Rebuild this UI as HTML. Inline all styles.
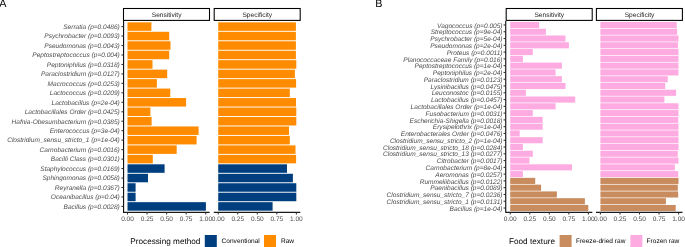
<!DOCTYPE html>
<html><head><meta charset="utf-8"><style>
html,body{margin:0;padding:0;background:#fff;}
body{width:685px;height:247px;overflow:hidden;}
svg{display:block;will-change:transform;text-rendering:geometricPrecision;font-family:"Liberation Sans",sans-serif;}
</style></head><body>
<svg width="685" height="247" viewBox="0 0 685 247">
<rect width="685" height="247" fill="#fff"/>
<rect x="123.5" y="8.5" width="86" height="11.9" fill="#fff" stroke="#000" stroke-width="1.07"/>
<text x="166.6" y="16.7" font-size="6.6" fill="#1A1A1A" text-anchor="middle">Sensitivity</text>
<rect x="127.51" y="22.32" width="23.89" height="8.52" fill="#FF8C00"/>
<rect x="127.51" y="31.79" width="41.69" height="8.52" fill="#FF8C00"/>
<rect x="127.51" y="41.25" width="42.99" height="8.52" fill="#FF8C00"/>
<rect x="127.51" y="50.72" width="41.69" height="8.52" fill="#FF8C00"/>
<rect x="127.51" y="60.18" width="24.99" height="8.52" fill="#FF8C00"/>
<rect x="127.51" y="69.65" width="39.69" height="8.52" fill="#FF8C00"/>
<rect x="127.51" y="79.11" width="29.39" height="8.52" fill="#FF8C00"/>
<rect x="127.51" y="88.58" width="42.79" height="8.52" fill="#FF8C00"/>
<rect x="127.51" y="98.04" width="58.59" height="8.52" fill="#FF8C00"/>
<rect x="127.51" y="107.51" width="22.89" height="8.52" fill="#FF8C00"/>
<rect x="127.51" y="116.97" width="24.09" height="8.52" fill="#FF8C00"/>
<rect x="127.51" y="126.44" width="71.09" height="8.52" fill="#FF8C00"/>
<rect x="127.51" y="135.9" width="69.09" height="8.52" fill="#FF8C00"/>
<rect x="127.51" y="145.37" width="49.19" height="8.52" fill="#FF8C00"/>
<rect x="127.51" y="154.83" width="25.29" height="8.52" fill="#FF8C00"/>
<rect x="127.51" y="164.3" width="37.09" height="8.52" fill="#003F7F"/>
<rect x="127.51" y="173.77" width="20.49" height="8.52" fill="#003F7F"/>
<rect x="127.51" y="183.23" width="8.09" height="8.52" fill="#003F7F"/>
<rect x="127.51" y="192.7" width="8.09" height="8.52" fill="#003F7F"/>
<rect x="127.51" y="202.16" width="78.39" height="8.52" fill="#003F7F"/>
<line x1="123.1" y1="212.3" x2="209.6" y2="212.3" stroke="#1a1a1a" stroke-width="1.15"/>
<line x1="127.51" y1="212.3" x2="127.51" y2="214.5" stroke="#333" stroke-width="1.07"/>
<text x="127.51" y="220.5" font-size="6.55" fill="#4D4D4D" text-anchor="middle">0.00</text>
<line x1="147.05" y1="212.3" x2="147.05" y2="214.5" stroke="#333" stroke-width="1.07"/>
<text x="147.05" y="220.5" font-size="6.55" fill="#4D4D4D" text-anchor="middle">0.25</text>
<line x1="166.6" y1="212.3" x2="166.6" y2="214.5" stroke="#333" stroke-width="1.07"/>
<text x="166.6" y="220.5" font-size="6.55" fill="#4D4D4D" text-anchor="middle">0.50</text>
<line x1="186.15" y1="212.3" x2="186.15" y2="214.5" stroke="#333" stroke-width="1.07"/>
<text x="186.15" y="220.5" font-size="6.55" fill="#4D4D4D" text-anchor="middle">0.75</text>
<line x1="205.69" y1="212.3" x2="205.69" y2="214.5" stroke="#333" stroke-width="1.07"/>
<text x="205.69" y="220.5" font-size="6.55" fill="#4D4D4D" text-anchor="middle">1.00</text>
<rect x="214.2" y="8.5" width="86" height="11.9" fill="#fff" stroke="#000" stroke-width="1.07"/>
<text x="257.3" y="16.7" font-size="6.6" fill="#1A1A1A" text-anchor="middle">Specificity</text>
<rect x="218.21" y="22.32" width="77.69" height="8.52" fill="#FF8C00"/>
<rect x="218.21" y="31.79" width="77.69" height="8.52" fill="#FF8C00"/>
<rect x="218.21" y="41.25" width="77.69" height="8.52" fill="#FF8C00"/>
<rect x="218.21" y="50.72" width="77.69" height="8.52" fill="#FF8C00"/>
<rect x="218.21" y="60.18" width="78.09" height="8.52" fill="#FF8C00"/>
<rect x="218.21" y="69.65" width="76.69" height="8.52" fill="#FF8C00"/>
<rect x="218.21" y="79.11" width="77.89" height="8.52" fill="#FF8C00"/>
<rect x="218.21" y="88.58" width="71.59" height="8.52" fill="#FF8C00"/>
<rect x="218.21" y="98.04" width="77.79" height="8.52" fill="#FF8C00"/>
<rect x="218.21" y="107.51" width="78.09" height="8.52" fill="#FF8C00"/>
<rect x="218.21" y="116.97" width="78.09" height="8.52" fill="#FF8C00"/>
<rect x="218.21" y="126.44" width="70.79" height="8.52" fill="#FF8C00"/>
<rect x="218.21" y="135.9" width="71.59" height="8.52" fill="#FF8C00"/>
<rect x="218.21" y="145.37" width="77.29" height="8.52" fill="#FF8C00"/>
<rect x="218.21" y="154.83" width="77.89" height="8.52" fill="#FF8C00"/>
<rect x="218.21" y="164.3" width="68.79" height="8.52" fill="#003F7F"/>
<rect x="218.21" y="173.77" width="74.69" height="8.52" fill="#003F7F"/>
<rect x="218.21" y="183.23" width="78.09" height="8.52" fill="#003F7F"/>
<rect x="218.21" y="192.7" width="78.09" height="8.52" fill="#003F7F"/>
<rect x="218.21" y="202.16" width="54.39" height="8.52" fill="#003F7F"/>
<line x1="213.8" y1="212.3" x2="300.3" y2="212.3" stroke="#1a1a1a" stroke-width="1.15"/>
<line x1="218.21" y1="212.3" x2="218.21" y2="214.5" stroke="#333" stroke-width="1.07"/>
<text x="218.21" y="220.5" font-size="6.55" fill="#4D4D4D" text-anchor="middle">0.00</text>
<line x1="237.75" y1="212.3" x2="237.75" y2="214.5" stroke="#333" stroke-width="1.07"/>
<text x="237.75" y="220.5" font-size="6.55" fill="#4D4D4D" text-anchor="middle">0.25</text>
<line x1="257.3" y1="212.3" x2="257.3" y2="214.5" stroke="#333" stroke-width="1.07"/>
<text x="257.3" y="220.5" font-size="6.55" fill="#4D4D4D" text-anchor="middle">0.50</text>
<line x1="276.85" y1="212.3" x2="276.85" y2="214.5" stroke="#333" stroke-width="1.07"/>
<text x="276.85" y="220.5" font-size="6.55" fill="#4D4D4D" text-anchor="middle">0.75</text>
<line x1="296.39" y1="212.3" x2="296.39" y2="214.5" stroke="#333" stroke-width="1.07"/>
<text x="296.39" y="220.5" font-size="6.55" fill="#4D4D4D" text-anchor="middle">1.00</text>
<line x1="123.6" y1="20.9" x2="123.6" y2="212.8" stroke="#000" stroke-width="1.07"/>
<line x1="121.4" y1="26.58" x2="123.6" y2="26.58" stroke="#333" stroke-width="1.07"/>
<text x="119.8" y="28.88" font-size="6.56" font-style="italic" fill="#4D4D4D" text-anchor="end">Serratia (p=0.0486)</text>
<line x1="121.4" y1="36.04" x2="123.6" y2="36.04" stroke="#333" stroke-width="1.07"/>
<text x="119.8" y="38.34" font-size="6.56" font-style="italic" fill="#4D4D4D" text-anchor="end">Psychrobacter (p=0.0093)</text>
<line x1="121.4" y1="45.51" x2="123.6" y2="45.51" stroke="#333" stroke-width="1.07"/>
<text x="119.8" y="47.81" font-size="6.56" font-style="italic" fill="#4D4D4D" text-anchor="end">Pseudomonas (p=0.0043)</text>
<line x1="121.4" y1="54.98" x2="123.6" y2="54.98" stroke="#333" stroke-width="1.07"/>
<text x="119.8" y="57.28" font-size="6.56" font-style="italic" fill="#4D4D4D" text-anchor="end">Peptostreptococcus (p=0.004)</text>
<line x1="121.4" y1="64.44" x2="123.6" y2="64.44" stroke="#333" stroke-width="1.07"/>
<text x="119.8" y="66.74" font-size="6.56" font-style="italic" fill="#4D4D4D" text-anchor="end">Peptoniphilus (p=0.0318)</text>
<line x1="121.4" y1="73.91" x2="123.6" y2="73.91" stroke="#333" stroke-width="1.07"/>
<text x="119.8" y="76.21" font-size="6.56" font-style="italic" fill="#4D4D4D" text-anchor="end">Paraclostridium (p=0.0127)</text>
<line x1="121.4" y1="83.37" x2="123.6" y2="83.37" stroke="#333" stroke-width="1.07"/>
<text x="119.8" y="85.67" font-size="6.56" font-style="italic" fill="#4D4D4D" text-anchor="end">Macrococcus (p=0.0253)</text>
<line x1="121.4" y1="92.84" x2="123.6" y2="92.84" stroke="#333" stroke-width="1.07"/>
<text x="119.8" y="95.14" font-size="6.56" font-style="italic" fill="#4D4D4D" text-anchor="end">Lactococcus (p=0.0209)</text>
<line x1="121.4" y1="102.3" x2="123.6" y2="102.3" stroke="#333" stroke-width="1.07"/>
<text x="119.8" y="104.6" font-size="6.56" font-style="italic" fill="#4D4D4D" text-anchor="end">Lactobacillus (p=2e-04)</text>
<line x1="121.4" y1="111.77" x2="123.6" y2="111.77" stroke="#333" stroke-width="1.07"/>
<text x="119.8" y="114.07" font-size="6.56" font-style="italic" fill="#4D4D4D" text-anchor="end">Lactobacillales Order (p=0.0425)</text>
<line x1="121.4" y1="121.23" x2="123.6" y2="121.23" stroke="#333" stroke-width="1.07"/>
<text x="119.8" y="123.53" font-size="6.56" font-style="italic" fill="#4D4D4D" text-anchor="end">Hafnia-Obesumbacterium (p=0.0385)</text>
<line x1="121.4" y1="130.7" x2="123.6" y2="130.7" stroke="#333" stroke-width="1.07"/>
<text x="119.8" y="133" font-size="6.56" font-style="italic" fill="#4D4D4D" text-anchor="end">Enterococcus (p=3e-04)</text>
<line x1="121.4" y1="140.16" x2="123.6" y2="140.16" stroke="#333" stroke-width="1.07"/>
<text x="119.8" y="142.46" font-size="6.56" font-style="italic" fill="#4D4D4D" text-anchor="end">Clostridium_sensu_stricto_1 (p=1e-04)</text>
<line x1="121.4" y1="149.63" x2="123.6" y2="149.63" stroke="#333" stroke-width="1.07"/>
<text x="119.8" y="151.93" font-size="6.56" font-style="italic" fill="#4D4D4D" text-anchor="end">Carnobacterium (p=0.0016)</text>
<line x1="121.4" y1="159.09" x2="123.6" y2="159.09" stroke="#333" stroke-width="1.07"/>
<text x="119.8" y="161.39" font-size="6.56" font-style="italic" fill="#4D4D4D" text-anchor="end">Bacilli Class (p=0.0301)</text>
<line x1="121.4" y1="168.56" x2="123.6" y2="168.56" stroke="#333" stroke-width="1.07"/>
<text x="119.8" y="170.86" font-size="6.56" font-style="italic" fill="#4D4D4D" text-anchor="end">Staphylococcus (p=0.0169)</text>
<line x1="121.4" y1="178.02" x2="123.6" y2="178.02" stroke="#333" stroke-width="1.07"/>
<text x="119.8" y="180.32" font-size="6.56" font-style="italic" fill="#4D4D4D" text-anchor="end">Sphingomonas (p=0.0058)</text>
<line x1="121.4" y1="187.49" x2="123.6" y2="187.49" stroke="#333" stroke-width="1.07"/>
<text x="119.8" y="189.79" font-size="6.56" font-style="italic" fill="#4D4D4D" text-anchor="end">Reyranella (p=0.0367)</text>
<line x1="121.4" y1="196.96" x2="123.6" y2="196.96" stroke="#333" stroke-width="1.07"/>
<text x="119.8" y="199.26" font-size="6.56" font-style="italic" fill="#4D4D4D" text-anchor="end">Oceanibacillus (p=0.04)</text>
<line x1="121.4" y1="206.42" x2="123.6" y2="206.42" stroke="#333" stroke-width="1.07"/>
<text x="119.8" y="208.72" font-size="6.56" font-style="italic" fill="#4D4D4D" text-anchor="end">Bacillus (p=0.0028)</text>
<rect x="506.2" y="8.5" width="86" height="11.9" fill="#fff" stroke="#000" stroke-width="1.07"/>
<text x="549.3" y="16.7" font-size="6.6" fill="#1A1A1A" text-anchor="middle">Sensitivity</text>
<rect x="510.21" y="21.92" width="28.89" height="6.1" fill="#FEABE2"/>
<rect x="510.21" y="28.7" width="35.69" height="6.1" fill="#FEABE2"/>
<rect x="510.21" y="35.48" width="55.29" height="6.1" fill="#FEABE2"/>
<rect x="510.21" y="42.26" width="58.69" height="6.1" fill="#FEABE2"/>
<rect x="510.21" y="49.04" width="22.59" height="6.1" fill="#FEABE2"/>
<rect x="510.21" y="55.82" width="12.69" height="6.1" fill="#FEABE2"/>
<rect x="510.21" y="62.6" width="51.69" height="6.1" fill="#FEABE2"/>
<rect x="510.21" y="69.38" width="45.39" height="6.1" fill="#FEABE2"/>
<rect x="510.21" y="76.16" width="51.69" height="6.1" fill="#FEABE2"/>
<rect x="510.21" y="82.94" width="55.29" height="6.1" fill="#FEABE2"/>
<rect x="510.21" y="89.72" width="15.79" height="6.1" fill="#FEABE2"/>
<rect x="510.21" y="96.5" width="64.99" height="6.1" fill="#FEABE2"/>
<rect x="510.21" y="103.28" width="45.39" height="6.1" fill="#FEABE2"/>
<rect x="510.21" y="110.06" width="22.59" height="6.1" fill="#FEABE2"/>
<rect x="510.21" y="116.84" width="32.49" height="6.1" fill="#FEABE2"/>
<rect x="510.21" y="123.62" width="32.49" height="6.1" fill="#FEABE2"/>
<rect x="510.21" y="130.4" width="9.49" height="6.1" fill="#FEABE2"/>
<rect x="510.21" y="137.18" width="32.49" height="6.1" fill="#FEABE2"/>
<rect x="510.21" y="143.96" width="12.69" height="6.1" fill="#FEABE2"/>
<rect x="510.21" y="150.74" width="22.59" height="6.1" fill="#FEABE2"/>
<rect x="510.21" y="157.52" width="19.19" height="6.1" fill="#FEABE2"/>
<rect x="510.21" y="164.3" width="61.79" height="6.1" fill="#FEABE2"/>
<rect x="510.21" y="171.08" width="12.69" height="6.1" fill="#FEABE2"/>
<rect x="510.21" y="177.86" width="24.99" height="6.1" fill="#C98C5E"/>
<rect x="510.21" y="184.64" width="30.89" height="6.1" fill="#C98C5E"/>
<rect x="510.21" y="191.42" width="46.69" height="6.1" fill="#C98C5E"/>
<rect x="510.21" y="198.2" width="74.69" height="6.1" fill="#C98C5E"/>
<rect x="510.21" y="204.98" width="78.09" height="6.1" fill="#C98C5E"/>
<line x1="505.8" y1="212.3" x2="592.3" y2="212.3" stroke="#1a1a1a" stroke-width="1.15"/>
<line x1="510.21" y1="212.3" x2="510.21" y2="214.5" stroke="#333" stroke-width="1.07"/>
<text x="510.21" y="220.5" font-size="6.55" fill="#4D4D4D" text-anchor="middle">0.00</text>
<line x1="529.75" y1="212.3" x2="529.75" y2="214.5" stroke="#333" stroke-width="1.07"/>
<text x="529.75" y="220.5" font-size="6.55" fill="#4D4D4D" text-anchor="middle">0.25</text>
<line x1="549.3" y1="212.3" x2="549.3" y2="214.5" stroke="#333" stroke-width="1.07"/>
<text x="549.3" y="220.5" font-size="6.55" fill="#4D4D4D" text-anchor="middle">0.50</text>
<line x1="568.85" y1="212.3" x2="568.85" y2="214.5" stroke="#333" stroke-width="1.07"/>
<text x="568.85" y="220.5" font-size="6.55" fill="#4D4D4D" text-anchor="middle">0.75</text>
<line x1="588.39" y1="212.3" x2="588.39" y2="214.5" stroke="#333" stroke-width="1.07"/>
<text x="588.39" y="220.5" font-size="6.55" fill="#4D4D4D" text-anchor="middle">1.00</text>
<rect x="596.4" y="8.5" width="86" height="11.9" fill="#fff" stroke="#000" stroke-width="1.07"/>
<text x="639.5" y="16.7" font-size="6.6" fill="#1A1A1A" text-anchor="middle">Specificity</text>
<rect x="600.41" y="21.92" width="76.29" height="6.1" fill="#FEABE2"/>
<rect x="600.41" y="28.7" width="76.79" height="6.1" fill="#FEABE2"/>
<rect x="600.41" y="35.48" width="78.09" height="6.1" fill="#FEABE2"/>
<rect x="600.41" y="42.26" width="77.59" height="6.1" fill="#FEABE2"/>
<rect x="600.41" y="49.04" width="78.09" height="6.1" fill="#FEABE2"/>
<rect x="600.41" y="55.82" width="78.09" height="6.1" fill="#FEABE2"/>
<rect x="600.41" y="62.6" width="78.09" height="6.1" fill="#FEABE2"/>
<rect x="600.41" y="69.38" width="78.09" height="6.1" fill="#FEABE2"/>
<rect x="600.41" y="76.16" width="67.39" height="6.1" fill="#FEABE2"/>
<rect x="600.41" y="82.94" width="64.79" height="6.1" fill="#FEABE2"/>
<rect x="600.41" y="89.72" width="75.69" height="6.1" fill="#FEABE2"/>
<rect x="600.41" y="96.5" width="63.99" height="6.1" fill="#FEABE2"/>
<rect x="600.41" y="103.28" width="78.09" height="6.1" fill="#FEABE2"/>
<rect x="600.41" y="110.06" width="78.09" height="6.1" fill="#FEABE2"/>
<rect x="600.41" y="116.84" width="77.79" height="6.1" fill="#FEABE2"/>
<rect x="600.41" y="123.62" width="78.09" height="6.1" fill="#FEABE2"/>
<rect x="600.41" y="130.4" width="78.09" height="6.1" fill="#FEABE2"/>
<rect x="600.41" y="137.18" width="78.09" height="6.1" fill="#FEABE2"/>
<rect x="600.41" y="143.96" width="78.09" height="6.1" fill="#FEABE2"/>
<rect x="600.41" y="150.74" width="77.39" height="6.1" fill="#FEABE2"/>
<rect x="600.41" y="157.52" width="78.09" height="6.1" fill="#FEABE2"/>
<rect x="600.41" y="164.3" width="74.49" height="6.1" fill="#FEABE2"/>
<rect x="600.41" y="171.08" width="77.79" height="6.1" fill="#FEABE2"/>
<rect x="600.41" y="177.86" width="78.09" height="6.1" fill="#C98C5E"/>
<rect x="600.41" y="184.64" width="77.39" height="6.1" fill="#C98C5E"/>
<rect x="600.41" y="191.42" width="77.79" height="6.1" fill="#C98C5E"/>
<rect x="600.41" y="198.2" width="65.49" height="6.1" fill="#C98C5E"/>
<rect x="600.41" y="204.98" width="75.29" height="6.1" fill="#C98C5E"/>
<line x1="596" y1="212.3" x2="682.5" y2="212.3" stroke="#1a1a1a" stroke-width="1.15"/>
<line x1="600.41" y1="212.3" x2="600.41" y2="214.5" stroke="#333" stroke-width="1.07"/>
<text x="600.41" y="220.5" font-size="6.55" fill="#4D4D4D" text-anchor="middle">0.00</text>
<line x1="619.95" y1="212.3" x2="619.95" y2="214.5" stroke="#333" stroke-width="1.07"/>
<text x="619.95" y="220.5" font-size="6.55" fill="#4D4D4D" text-anchor="middle">0.25</text>
<line x1="639.5" y1="212.3" x2="639.5" y2="214.5" stroke="#333" stroke-width="1.07"/>
<text x="639.5" y="220.5" font-size="6.55" fill="#4D4D4D" text-anchor="middle">0.50</text>
<line x1="659.05" y1="212.3" x2="659.05" y2="214.5" stroke="#333" stroke-width="1.07"/>
<text x="659.05" y="220.5" font-size="6.55" fill="#4D4D4D" text-anchor="middle">0.75</text>
<line x1="678.59" y1="212.3" x2="678.59" y2="214.5" stroke="#333" stroke-width="1.07"/>
<text x="678.59" y="220.5" font-size="6.55" fill="#4D4D4D" text-anchor="middle">1.00</text>
<line x1="505.75" y1="20.9" x2="505.75" y2="212.8" stroke="#000" stroke-width="1.07"/>
<line x1="503.55" y1="24.97" x2="505.75" y2="24.97" stroke="#333" stroke-width="1.07"/>
<text x="502.5" y="27.67" font-size="6.56" font-style="italic" fill="#4D4D4D" text-anchor="end">Vagococcus (p=0.005)</text>
<line x1="503.55" y1="31.75" x2="505.75" y2="31.75" stroke="#333" stroke-width="1.07"/>
<text x="502.5" y="34.45" font-size="6.56" font-style="italic" fill="#4D4D4D" text-anchor="end">Streptococcus (p=9e-04)</text>
<line x1="503.55" y1="38.53" x2="505.75" y2="38.53" stroke="#333" stroke-width="1.07"/>
<text x="502.5" y="41.23" font-size="6.56" font-style="italic" fill="#4D4D4D" text-anchor="end">Psychrobacter (p=5e-04)</text>
<line x1="503.55" y1="45.31" x2="505.75" y2="45.31" stroke="#333" stroke-width="1.07"/>
<text x="502.5" y="48.01" font-size="6.56" font-style="italic" fill="#4D4D4D" text-anchor="end">Pseudomonas (p=2e-04)</text>
<line x1="503.55" y1="52.09" x2="505.75" y2="52.09" stroke="#333" stroke-width="1.07"/>
<text x="502.5" y="54.79" font-size="6.56" font-style="italic" fill="#4D4D4D" text-anchor="end">Proteus (p=0.0011)</text>
<line x1="503.55" y1="58.87" x2="505.75" y2="58.87" stroke="#333" stroke-width="1.07"/>
<text x="502.5" y="61.57" font-size="6.56" font-style="italic" fill="#4D4D4D" text-anchor="end">Planococcaceae Family (p=0.016)</text>
<line x1="503.55" y1="65.65" x2="505.75" y2="65.65" stroke="#333" stroke-width="1.07"/>
<text x="502.5" y="68.35" font-size="6.56" font-style="italic" fill="#4D4D4D" text-anchor="end">Peptostreptococcus (p=1e-04)</text>
<line x1="503.55" y1="72.43" x2="505.75" y2="72.43" stroke="#333" stroke-width="1.07"/>
<text x="502.5" y="75.13" font-size="6.56" font-style="italic" fill="#4D4D4D" text-anchor="end">Peptoniphilus (p=2e-04)</text>
<line x1="503.55" y1="79.21" x2="505.75" y2="79.21" stroke="#333" stroke-width="1.07"/>
<text x="502.5" y="81.91" font-size="6.56" font-style="italic" fill="#4D4D4D" text-anchor="end">Paraclostridium (p=0.0123)</text>
<line x1="503.55" y1="85.99" x2="505.75" y2="85.99" stroke="#333" stroke-width="1.07"/>
<text x="502.5" y="88.69" font-size="6.56" font-style="italic" fill="#4D4D4D" text-anchor="end">Lysinibacillus (p=0.0475)</text>
<line x1="503.55" y1="92.77" x2="505.75" y2="92.77" stroke="#333" stroke-width="1.07"/>
<text x="502.5" y="95.47" font-size="6.56" font-style="italic" fill="#4D4D4D" text-anchor="end">Leuconostoc (p=0.0155)</text>
<line x1="503.55" y1="99.55" x2="505.75" y2="99.55" stroke="#333" stroke-width="1.07"/>
<text x="502.5" y="102.25" font-size="6.56" font-style="italic" fill="#4D4D4D" text-anchor="end">Lactobacillus (p=0.0457)</text>
<line x1="503.55" y1="106.33" x2="505.75" y2="106.33" stroke="#333" stroke-width="1.07"/>
<text x="502.5" y="109.03" font-size="6.56" font-style="italic" fill="#4D4D4D" text-anchor="end">Lactobacillales Order (p=1e-04)</text>
<line x1="503.55" y1="113.11" x2="505.75" y2="113.11" stroke="#333" stroke-width="1.07"/>
<text x="502.5" y="115.81" font-size="6.56" font-style="italic" fill="#4D4D4D" text-anchor="end">Fusobacterium (p=0.0031)</text>
<line x1="503.55" y1="119.89" x2="505.75" y2="119.89" stroke="#333" stroke-width="1.07"/>
<text x="502.5" y="122.59" font-size="6.56" font-style="italic" fill="#4D4D4D" text-anchor="end">Escherichia-Shigella (p=0.0018)</text>
<line x1="503.55" y1="126.67" x2="505.75" y2="126.67" stroke="#333" stroke-width="1.07"/>
<text x="502.5" y="129.37" font-size="6.56" font-style="italic" fill="#4D4D4D" text-anchor="end">Erysipelothrix (p=1e-04)</text>
<line x1="503.55" y1="133.45" x2="505.75" y2="133.45" stroke="#333" stroke-width="1.07"/>
<text x="502.5" y="136.15" font-size="6.56" font-style="italic" fill="#4D4D4D" text-anchor="end">Enterobacterales Order (p=0.0476)</text>
<line x1="503.55" y1="140.23" x2="505.75" y2="140.23" stroke="#333" stroke-width="1.07"/>
<text x="502.5" y="142.93" font-size="6.56" font-style="italic" fill="#4D4D4D" text-anchor="end">Clostridium_sensu_stricto_2 (p=1e-04)</text>
<line x1="503.55" y1="147.01" x2="505.75" y2="147.01" stroke="#333" stroke-width="1.07"/>
<text x="502.5" y="149.71" font-size="6.56" font-style="italic" fill="#4D4D4D" text-anchor="end">Clostridium_sensu_stricto_18 (p=0.0284)</text>
<line x1="503.55" y1="153.79" x2="505.75" y2="153.79" stroke="#333" stroke-width="1.07"/>
<text x="502.5" y="156.49" font-size="6.56" font-style="italic" fill="#4D4D4D" text-anchor="end">Clostridium_sensu_stricto_13 (p=0.0277)</text>
<line x1="503.55" y1="160.57" x2="505.75" y2="160.57" stroke="#333" stroke-width="1.07"/>
<text x="502.5" y="163.27" font-size="6.56" font-style="italic" fill="#4D4D4D" text-anchor="end">Citrobacter (p=0.0017)</text>
<line x1="503.55" y1="167.35" x2="505.75" y2="167.35" stroke="#333" stroke-width="1.07"/>
<text x="502.5" y="170.05" font-size="6.56" font-style="italic" fill="#4D4D4D" text-anchor="end">Carnobacterium (p=8e-04)</text>
<line x1="503.55" y1="174.13" x2="505.75" y2="174.13" stroke="#333" stroke-width="1.07"/>
<text x="502.5" y="176.83" font-size="6.56" font-style="italic" fill="#4D4D4D" text-anchor="end">Aeromonas (p=0.0257)</text>
<line x1="503.55" y1="180.91" x2="505.75" y2="180.91" stroke="#333" stroke-width="1.07"/>
<text x="502.5" y="183.61" font-size="6.56" font-style="italic" fill="#4D4D4D" text-anchor="end">Rummeliibacillus (p=0.0122)</text>
<line x1="503.55" y1="187.69" x2="505.75" y2="187.69" stroke="#333" stroke-width="1.07"/>
<text x="502.5" y="190.39" font-size="6.56" font-style="italic" fill="#4D4D4D" text-anchor="end">Paenibacillus (p=0.0089)</text>
<line x1="503.55" y1="194.47" x2="505.75" y2="194.47" stroke="#333" stroke-width="1.07"/>
<text x="502.5" y="197.17" font-size="6.56" font-style="italic" fill="#4D4D4D" text-anchor="end">Clostridium_sensu_stricto_7 (p=0.0236)</text>
<line x1="503.55" y1="201.25" x2="505.75" y2="201.25" stroke="#333" stroke-width="1.07"/>
<text x="502.5" y="203.95" font-size="6.56" font-style="italic" fill="#4D4D4D" text-anchor="end">Clostridium_sensu_stricto_1 (p=0.0131)</text>
<line x1="503.55" y1="208.03" x2="505.75" y2="208.03" stroke="#333" stroke-width="1.07"/>
<text x="502.5" y="210.73" font-size="6.56" font-style="italic" fill="#4D4D4D" text-anchor="end">Bacillus (p=1e-04)</text>
<text x="130.3" y="243.8" font-size="8.2" fill="#000">Processing method</text>
<rect x="204.8" y="235" width="12" height="12" fill="#003F7F"/>
<text x="221.6" y="243.1" font-size="6.55" fill="#000">Conventional</text>
<rect x="264" y="235" width="12" height="12" fill="#FF8C00"/>
<text x="281" y="243.1" font-size="6.55" fill="#000">Raw</text>
<text x="509" y="243.8" font-size="8.2" fill="#000">Food texture</text>
<rect x="559.6" y="235" width="12" height="12" fill="#C98C5E"/>
<text x="575.9" y="243.1" font-size="6.55" fill="#000">Freeze-dried raw</text>
<rect x="630.4" y="235" width="12" height="12" fill="#FEABE2"/>
<text x="646.6" y="243.1" font-size="6.55" fill="#000">Frozen raw</text>
<text x="-0.7" y="7.45" font-size="10.8" fill="#000">A</text>
<text x="375.2" y="7.45" font-size="10.8" fill="#000">B</text>
</svg>
</body></html>
